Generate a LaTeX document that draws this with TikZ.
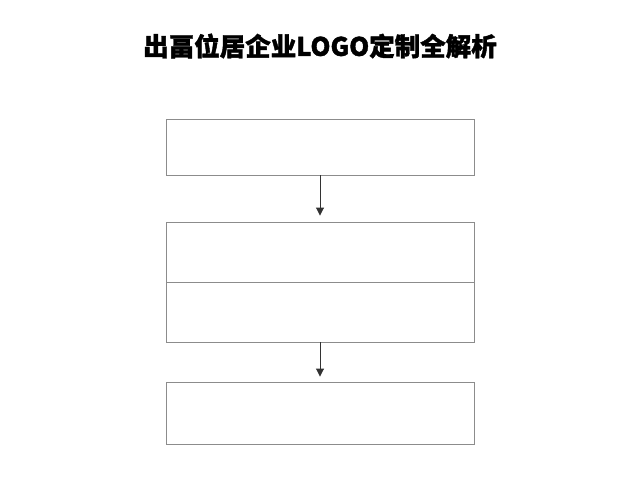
\documentclass[tikz,border=0pt]{standalone}
\usepackage{fontspec}
\newfontfamily\cjk{Noto Sans CJK SC}[BoldFeatures={FakeBold=1.5}]
\usetikzlibrary{arrows.meta}
\begin{document}
\begin{tikzpicture}[x=1pt,y=-1pt,
  boxstyle/.style={draw=black!45,line width=0.9pt,rectangle,inner sep=0pt,minimum width=308pt},
  flow/.style={draw=black!80,line width=0.9pt,-{Triangle[length=8pt,width=8pt]}}]
\fill[white] (0,0) rectangle (640,480);
\node (title) at (320,46) {\cjk\bfseries\fontsize{25.5}{30}\selectfont 出畐位居企业LOGO定制全解析};
\node[boxstyle,minimum height=56pt] (b1) at (320,147) {};
\node[boxstyle,minimum height=60pt] (b2) at (320,252) {};
\node[boxstyle,minimum height=60pt] (b3) at (320,312) {};
\node[boxstyle,minimum height=62pt] (b4) at (320,413) {};
\draw[flow,shorten >=6pt] (b1.south) -- (b2.north);
\draw[flow,shorten >=5pt] (b3.south) -- (b4.north);
\end{tikzpicture}
\end{document}
